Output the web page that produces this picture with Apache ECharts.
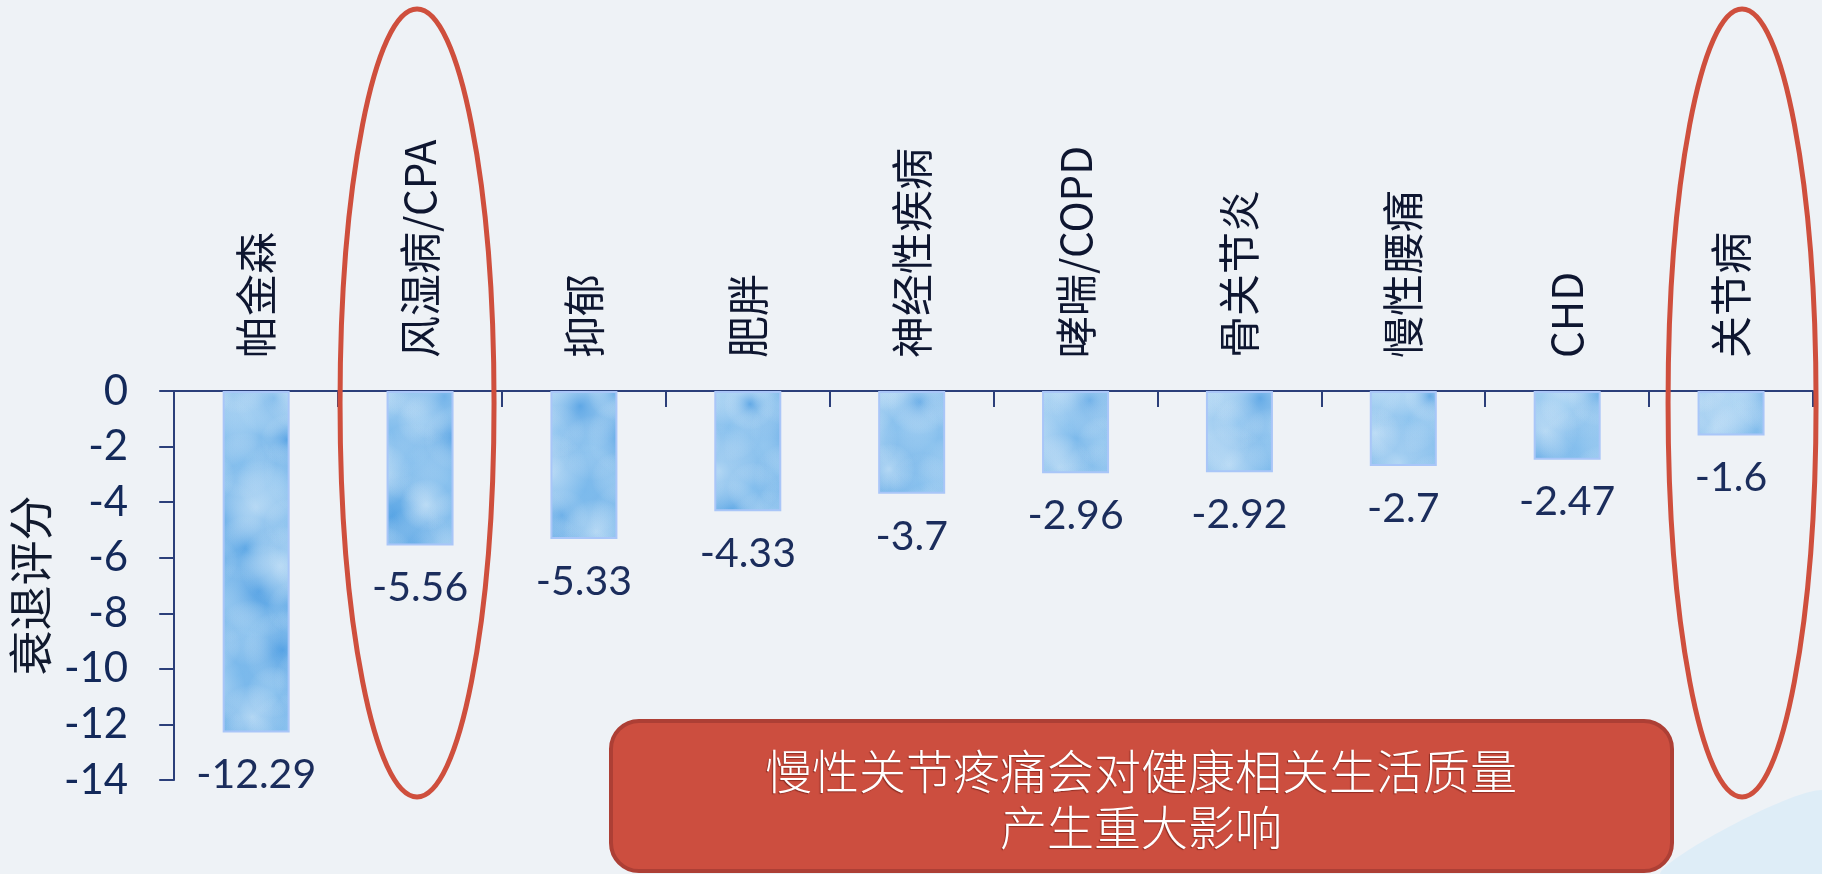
<!DOCTYPE html>
<html>
<head>
<meta charset="utf-8">
<title>衰退评分</title>
<script src="https://cdn.jsdelivr.net/npm/echarts@6/dist/echarts.min.js"></script>
<style>
  html, body { margin: 0; padding: 0; background: #eef2f6; }
  #chart { width: 1822px; height: 874px; }
</style>
</head>
<body>
<div id="chart"></div>
<script>
// Conditions and their decline scores
const categories = ['帕金森', '风湿病/CPA', '抑郁', '肥胖', '神经性疾病', '哮喘/COPD', '骨关节炎', '慢性腰痛', 'CHD', '关节病'];
const scores = [-12.29, -5.56, -5.33, -4.33, -3.7, -2.96, -2.92, -2.7, -2.47, -1.6];
const yAxisName = '衰退评分';
const calloutLines = ['慢性关节疼痛会对健康相关生活质量', '产生重大影响'];
const highlighted = ['风湿病/CPA', '关节病'];

// Watercolour-like wash covering the whole canvas; bars show it through their fill
function makeWash(w, h) {
  const c = document.createElement('canvas');
  c.width = w; c.height = h;
  const g = c.getContext('2d');
  const base = g.createLinearGradient(0, 390, 0, h);
  base.addColorStop(0, '#9ccbf0');
  base.addColorStop(0.1, '#5fa9e6');
  base.addColorStop(1, '#58a5e5');
  g.fillStyle = base;
  g.fillRect(0, 0, w, h);
  const tones = [
    'rgba(228,242,252,0.6)',
    'rgba(52,142,222,0.5)',
    'rgba(150,202,242,0.5)',
    'rgba(70,154,226,0.45)',
    'rgba(190,224,248,0.45)'
  ];
  for (let i = 0; i * 34 < w; i++) {
    for (let j = 0; j * 42 < h; j++) {
      const k = (i * 7 + j * 3) % tones.length;
      const x = i * 34 + ((j * 13) % 23);
      const y = j * 42 + ((i * 17) % 29);
      const r = 26 + ((i + 2 * j) % 4) * 7;
      const rg = g.createRadialGradient(x, y, 0, x, y, r);
      rg.addColorStop(0, tones[k]);
      rg.addColorStop(1, 'rgba(255,255,255,0)');
      g.fillStyle = rg;
      g.fillRect(x - r, y - r, 2 * r, 2 * r);
    }
  }
  return c;
}

const chart = echarts.init(document.getElementById('chart'), null, { renderer: 'canvas' });
const navy = '#2b3f7a';

chart.setOption({
  backgroundColor: '#eef2f6',
  animation: false,
  grid: { left: 172, right: 9, top: 391, bottom: 94, containLabel: false },
  xAxis: {
    type: 'category',
    data: categories,
    position: 'top',
    axisLine: { show: true, lineStyle: { color: navy, width: 2 } },
    axisTick: { show: true, inside: true, length: 16, lineStyle: { color: navy, width: 2 } },
    axisLabel: {
      interval: 0, rotate: 90, margin: 33,
      fontSize: 42, color: '#0e1630',
      fontFamily: '"Noto Sans CJK SC", sans-serif'
    },
    splitLine: { show: false }
  },
  yAxis: {
    type: 'value',
    min: -14, max: 0, interval: 2,
    name: yAxisName,
    nameLocation: 'middle',
    nameRotate: 90,
    nameGap: 116,
    nameTextStyle: { fontSize: 45, color: '#111a2e', fontFamily: '"Noto Sans CJK SC", sans-serif' },
    axisLine: { show: true, lineStyle: { color: navy, width: 2 } },
    axisTick: { show: true, inside: false, length: 15, lineStyle: { color: navy, width: 2 } },
    axisLabel: { margin: 46, fontSize: 42, color: '#13295a', fontFamily: 'Lato, sans-serif' },
    splitLine: { show: false }
  },
  series: [{
    type: 'bar',
    data: scores,
    barWidth: 67,
    itemStyle: {
      color: { image: makeWash(1822, 874), repeat: 'no-repeat' },
      borderColor: '#a9c6f8',
      borderWidth: 2
    },
    label: {
      show: true,
      position: 'bottom',
      distance: 22,
      fontSize: 41,
      color: '#1b2d5c',
      fontFamily: 'Lato, sans-serif'
    }
  }]
});

// Annotations: highlight ellipses, callout box and corner swoosh
function drawAnnotations() {
  const topY = 9, bottomY = 797;
  const cy = (topY + bottomY) / 2, ry = (bottomY - topY) / 2;
  const offsets = { '风湿病/CPA': { dx: -3, rx: 77 }, '关节病': { dx: 11, rx: 74 } };
  const ellipses = highlighted.map(name => {
    const cx = chart.convertToPixel({ xAxisIndex: 0 }, name) + offsets[name].dx;
    return {
      type: 'ellipse',
      shape: { cx: cx, cy: cy, rx: offsets[name].rx, ry: ry },
      style: { fill: 'none', stroke: '#cf4f3d', lineWidth: 5 },
      z: 20
    };
  });
  chart.setOption({
    graphic: [
      {
        type: 'polygon',
        shape: { points: [[1660, 874], [1822, 790], [1822, 874]], smooth: 0.3 },
        style: { fill: '#deedf7' },
        z: -1
      },
      ...ellipses,
      {
        type: 'rect',
        shape: { x: 611, y: 721, width: 1061, height: 150, r: 28 },
        style: { fill: '#cc4e3f', stroke: '#ad3f35', lineWidth: 4 },
        z: 30
      },
      {
        type: 'text',
        x: 1141, y: 799,
        style: {
          text: calloutLines.join('\n'),
          fill: '#ffffff',
          fontSize: 47,
          lineHeight: 56,
          fontWeight: 300,
          fontFamily: '"Noto Sans CJK SC", sans-serif',
          align: 'center',
          verticalAlign: 'middle',
          textShadowColor: 'rgba(90,20,15,0.55)',
          textShadowOffsetX: -1,
          textShadowOffsetY: 1,
          textShadowBlur: 1
        },
        z: 31
      }
    ]
  });
}
drawAnnotations();
</script>
</body>
</html>
